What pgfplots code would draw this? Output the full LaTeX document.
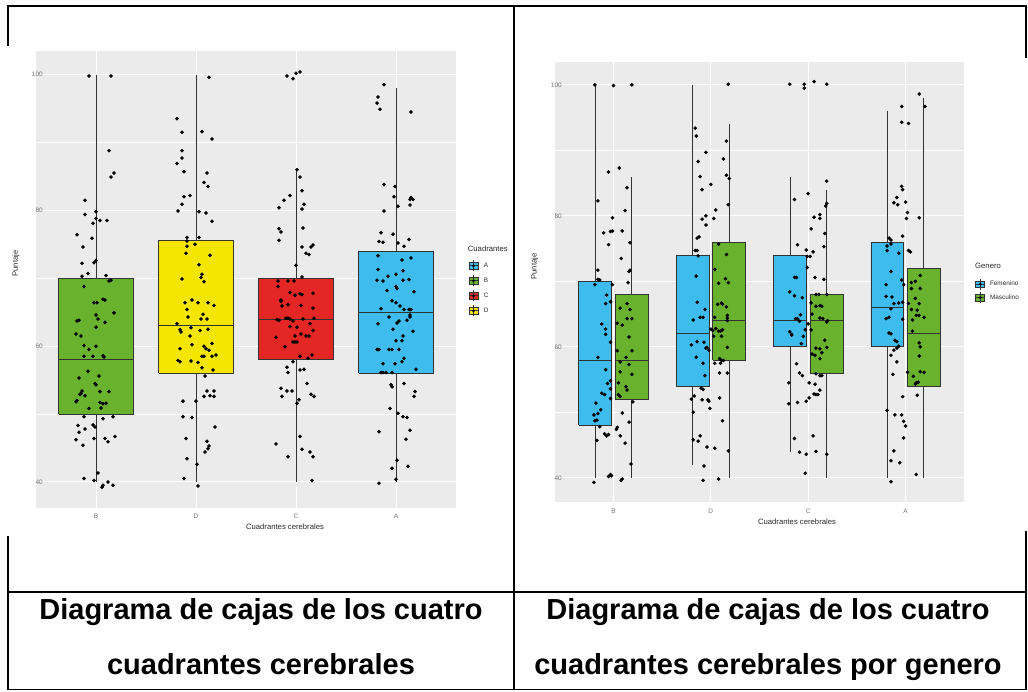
\documentclass[border=0pt]{standalone}
\usepackage{fontspec}
\setmainfont{Liberation Sans}
\usepackage{pgfplots}
\pgfplotsset{compat=1.18}
\definecolor{ggbg}{RGB}{235,235,235}
\definecolor{ggblue}{RGB}{62,188,237}
\definecolor{gggreen}{RGB}{104,178,46}
\definecolor{ggred}{RGB}{228,38,36}
\definecolor{ggyellow}{RGB}{244,230,0}
\definecolor{ggdark}{RGB}{51,51,51}
\definecolor{ggtick}{RGB}{115,115,115}
\definecolor{ggtext}{RGB}{40,40,40}
\pgfplotsset{
  ggaxis/.style={scale only axis, axis background/.style={fill=ggbg},
    grid=both, major grid style={white,line width=1pt}, minor grid style={white,line width=0.5pt},
    axis line style={draw=none}, major tick length=0pt, minor tick length=0pt,
    ytick={40,60,80,100}, minor ytick={50,70,90},
    xtick={1,2,3,4}, xticklabels={B,D,C,A}, xmin=0.4, xmax=4.6,
    /pgf/number format/assume math mode=true,
    tick label style={font=\fontsize{6.5}{7}\selectfont, text=ggtick, inner sep=0pt},
    yticklabel style={anchor=east, xshift=7pt},
    xticklabel style={anchor=north, yshift=-6.5pt},
    legend style={draw=none, fill=none, inner sep=0pt, row sep=0pt, column sep=5pt,
      nodes={inner sep=0.5pt, font=\fontsize{6.4}{7}\selectfont, text=ggtext}},
    legend cell align=left},
  ggw/.style={draw=ggdark, line width=0.7pt, forget plot, mark=none},
  ggb/.style={draw=ggdark, line width=0.7pt, fill=#1, forget plot, mark=none},
  ggpts/.style={only marks, mark=*, mark size=1.6pt, black, forget plot},
  ggkey/.style={legend image code/.code={%
    \path[draw=none, fill=none] (0pt,-7pt) rectangle (9pt,7pt);
    \draw[draw=ggdark, fill=none, line width=0.6pt] (4.5pt,-5.5pt)--(4.5pt,5.5pt);
    \draw[fill=#1, draw=ggdark, line width=0.6pt] (0pt,-3.2pt) rectangle (9pt,3.2pt);
    \draw[draw=ggdark, fill=none, line width=0.6pt] (0pt,0pt)--(9pt,0pt);
    \draw[draw=ggdark, fill=none, line width=0.6pt] (4.5pt,-3.2pt)--(4.5pt,3.2pt);
    \path[fill=black, draw=none] (4.5pt,0pt) circle (1.5pt);}}
}
\begin{document}
\begin{tikzpicture}
\useasboundingbox (0,0) rectangle (1028pt,691pt);
% table lines
\begin{scope}[line width=1.5pt, black]
\draw (7pt,685pt) -- (1027pt,685pt);
\draw (7pt,99pt) -- (1027pt,99pt);
\draw (7pt,1.5pt) -- (1027pt,1.5pt);
\draw (514pt,685pt) -- (514pt,1.5pt);
\draw (8pt,685pt) -- (8pt,645pt);
\draw (8pt,155pt) -- (8pt,1.5pt);
\draw (1026pt,685pt) -- (1026pt,633pt);
\draw (1026pt,160pt) -- (1026pt,1.5pt);
\end{scope}
% ---------------- left chart
\begin{axis}[ggaxis, at={(36pt,183.3pt)}, anchor=south west, width=420pt, height=456.5pt,
  ymin=36.2, ymax=103.45,
  legend style={at={(1.0298,0.5457)}, anchor=north west, row sep=1pt}]
\addlegendimage{ggkey=ggblue}\addlegendentry{A}
\addlegendimage{ggkey=gggreen}\addlegendentry{B}
\addlegendimage{ggkey=ggred}\addlegendentry{C}
\addlegendimage{ggkey=ggyellow}\addlegendentry{D}
% B box
\addplot[ggw] coordinates {(1,40) (1,100)};
\addplot[ggb=gggreen] coordinates {(0.625,50) (1.375,50) (1.375,70) (0.625,70) (0.625,50)};
\addplot[ggw] coordinates {(0.625,58) (1.375,58)};
% D box
\addplot[ggw] coordinates {(2,40) (2,100)};
\addplot[ggb=ggyellow] coordinates {(1.625,56) (2.375,56) (2.375,75.6) (1.625,75.6) (1.625,56)};
\addplot[ggw] coordinates {(1.625,63) (2.375,63)};
% C box
\addplot[ggw] coordinates {(3,40) (3,86)};
\addplot[ggb=ggred] coordinates {(2.625,58) (3.375,58) (3.375,70) (2.625,70) (2.625,58)};
\addplot[ggw] coordinates {(2.625,64) (3.375,64)};
% A box
\addplot[ggw] coordinates {(4,40) (4,98)};
\addplot[ggb=ggblue] coordinates {(3.625,56) (4.375,56) (4.375,74) (3.625,74) (3.625,56)};
\addplot[ggw] coordinates {(3.625,65) (4.375,65)};
% B
\addplot[ggpts] coordinates {(0.93,99.8) (1.15,99.8) (1.13,88.8) (1.15,84.9) (1.18,85.5) (0.89,81.5) (0.89,79.4) (1.00,79.8) (0.97,78.1) (1.00,78.8) (1.04,78.5) (1.11,78.5) (0.81,76.4) (0.96,75.9) (0.87,74.6) (0.86,72.2) (0.98,72.3) (1.00,72.6) (0.92,70.7) (0.86,70.3) (1.10,70.4) (1.13,69.6) (1.15,69.7) (0.88,68.8) (0.98,66.4) (1.01,66.4) (1.07,66.9) (1.09,66.8) (1.00,64.6) (1.18,64.9) (0.81,63.7) (0.83,63.8) (1.02,64.0) (1.09,63.5) (1.00,62.8) (0.80,61.8) (0.85,61.5) (0.88,60.1) (1.00,60.0) (0.93,59.5) (0.88,58.5) (0.97,58.5) (1.07,58.6) (1.08,58.4) (0.92,56.3) (1.03,55.6) (0.83,55.3) (0.99,54.5) (1.00,54.3) (0.86,53.4) (0.85,53.0) (0.84,52.9) (0.89,52.7) (1.04,53.3) (1.13,53.3) (0.81,52.0) (0.80,51.8) (1.04,51.7) (1.07,51.5) (1.10,51.6) (1.05,50.9) (0.93,50.8) (0.88,49.6) (1.17,49.6) (1.07,49.3) (0.82,48.3) (0.97,48.4) (0.99,48.1) (0.89,47.8) (0.83,47.3) (1.19,46.7) (1.09,46.4) (0.98,46.4) (0.80,46.2) (1.12,45.9) (0.87,45.4) (1.02,41.3) (0.88,40.5) (0.98,40.2) (1.12,40.0) (1.17,39.5) (1.07,39.5) (1.06,39.2)};
% D
\addplot[ggpts] coordinates {(2.13,99.6) (1.81,93.5) (1.86,91.5) (2.06,91.6) (2.16,90.5) (1.86,88.8) (1.86,87.7) (1.81,86.9) (1.88,85.7) (2.11,85.5) (2.08,84.1) (2.12,83.5) (1.88,82.0) (1.94,82.2) (1.86,80.9) (1.82,79.9) (2.03,79.8) (2.10,79.6) (2.16,78.4) (1.91,76.0) (2.03,76.0) (1.91,75.5) (1.91,74.7) (1.99,75.0) (1.90,73.7) (2.14,73.4) (2.03,72.0) (2.06,70.6) (2.05,70.1) (1.86,69.9) (2.08,69.5) (1.96,66.8) (1.89,66.4) (2.02,66.4) (2.12,66.4) (2.18,66.0) (1.91,65.4) (2.07,64.7) (1.92,64.3) (2.11,64.0) (2.05,64.0) (1.81,63.3) (2.12,62.5) (1.84,62.4) (1.95,62.7) (2.04,62.3) (1.85,62.1) (1.94,61.5) (2.16,60.4) (1.96,60.2) (2.08,60.0) (2.10,59.6) (2.13,59.4) (1.84,59.6) (2.20,58.7) (2.06,58.5) (2.08,58.5) (2.16,58.5) (1.82,57.9) (1.84,57.7) (1.95,57.8) (2.02,57.6) (2.06,56.8) (2.17,56.5) (2.09,55.6) (2.11,53.4) (2.18,53.4) (2.08,52.6) (2.14,52.7) (2.18,52.6) (1.87,51.9) (2.00,51.9) (1.87,49.6) (1.96,49.5) (2.19,48.1) (1.90,46.4) (2.11,46.0) (2.13,45.3) (2.12,44.9) (2.09,44.4) (1.91,43.4) (2.01,42.6) (1.88,40.5) (2.02,39.4)};
% C
\addplot[ggpts] coordinates {(2.91,99.8) (2.97,99.4) (3.00,100.2) (3.04,100.4) (3.01,86.0) (3.04,84.9) (3.06,82.9) (2.94,82.2) (2.88,81.5) (3.08,80.9) (3.06,80.2) (2.83,80.4) (2.83,77.3) (2.85,76.8) (2.83,75.6) (3.07,77.4) (3.17,74.9) (3.15,74.6) (3.06,74.6) (3.10,73.7) (3.13,73.5) (3.00,71.9) (3.06,70.2) (2.82,69.6) (2.92,69.6) (2.98,69.6) (2.82,68.8) (2.94,67.9) (2.99,67.5) (3.04,67.7) (3.06,67.6) (3.17,67.8) (2.85,66.8) (2.85,66.6) (2.92,66.1) (3.05,66.0) (2.86,65.9) (3.17,65.6) (2.81,63.9) (2.83,63.8) (2.90,64.1) (2.92,64.1) (2.94,64.0) (2.97,63.7) (3.07,64.0) (3.18,64.1) (3.01,62.8) (3.14,63.3) (2.94,62.9) (3.17,62.3) (3.05,61.8) (2.99,61.5) (3.10,61.5) (3.13,61.5) (2.80,61.3) (2.97,60.6) (2.99,60.6) (3.01,60.6) (2.89,59.9) (3.16,58.7) (3.04,58.5) (3.12,58.2) (2.97,57.7) (2.91,56.9) (2.92,56.1) (3.04,56.5) (3.08,56.6) (3.11,54.5) (2.85,53.8) (2.91,53.4) (2.96,53.4) (2.86,52.6) (3.15,52.9) (3.18,52.6) (3.03,52.1) (3.01,51.6) (3.04,46.7) (2.80,45.6) (3.06,44.8) (3.14,44.4) (2.92,43.7) (3.17,43.7) (3.16,40.2)};
% A
\addplot[ggpts] coordinates {(3.88,98.5) (3.82,96.7) (3.81,95.8) (3.84,94.9) (4.15,94.5) (3.88,83.8) (3.99,83.5) (3.98,82.0) (4.15,81.9) (4.17,81.6) (4.14,81.6) (4.02,80.6) (4.14,80.8) (3.88,79.9) (3.85,76.7) (3.97,76.5) (3.83,75.4) (3.87,75.3) (4.02,75.2) (4.13,75.7) (4.08,74.7) (3.82,73.3) (4.06,72.7) (4.15,73.0) (3.82,71.3) (4.07,71.1) (3.92,70.3) (4.00,70.6) (4.13,69.8) (4.07,69.7) (3.81,69.7) (3.87,69.6) (4.00,68.8) (3.91,68.2) (4.18,68.0) (4.01,68.5) (3.96,66.7) (4.00,66.4) (4.04,65.9) (3.85,65.5) (4.08,65.4) (4.13,65.4) (4.15,65.4) (4.14,64.6) (4.14,64.3) (3.93,64.3) (4.03,63.7) (4.01,63.4) (4.11,63.8) (3.82,63.3) (3.97,62.5) (4.17,62.2) (4.07,61.5) (4.00,60.8) (4.06,60.8) (3.81,59.5) (3.83,59.5) (3.93,59.5) (4.03,59.5) (3.96,59.5) (4.08,58.2) (4.06,57.7) (3.99,57.4) (3.87,57.4) (4.20,56.6) (3.85,56.1) (3.87,56.1) (3.90,56.1) (3.96,56.1) (3.95,54.3) (3.96,54.0) (4.08,54.5) (4.19,53.3) (4.18,52.6) (3.94,50.8) (4.02,50.1) (4.07,49.6) (4.11,49.5) (4.14,47.6) (3.83,47.4) (4.10,46.3) (4.01,43.2) (4.12,42.3) (3.96,42.0) (4.00,40.4) (3.83,39.8)};
\end{axis}
% ---------------- right chart
\begin{axis}[ggaxis, at={(555pt,189pt)}, anchor=south west, width=409pt, height=440pt,
  ymin=36.3, ymax=103.5,
  legend style={at={(1.0274,0.5116)}, anchor=north west, row sep=-0.4pt, column sep=4.5pt}]
\addlegendimage{ggkey=ggblue}\addlegendentry{Femenino}
\addlegendimage{ggkey=gggreen}\addlegendentry{Masculino}
% B
\addplot[ggw] coordinates {(0.8125,40) (0.8125,100)};
\addplot[ggb=ggblue] coordinates {(0.644,48) (0.981,48) (0.981,70) (0.644,70) (0.644,48)};
\addplot[ggw] coordinates {(0.644,58) (0.981,58)};
\addplot[ggw] coordinates {(1.1875,40) (1.1875,86)};
\addplot[ggb=gggreen] coordinates {(1.019,52) (1.356,52) (1.356,68) (1.019,68) (1.019,52)};
\addplot[ggw] coordinates {(1.019,58) (1.356,58)};
% D
\addplot[ggw] coordinates {(1.8125,42) (1.8125,100)};
\addplot[ggb=ggblue] coordinates {(1.644,54) (1.981,54) (1.981,74) (1.644,74) (1.644,54)};
\addplot[ggw] coordinates {(1.644,62) (1.981,62)};
\addplot[ggw] coordinates {(2.1875,40) (2.1875,94)};
\addplot[ggb=gggreen] coordinates {(2.019,58) (2.356,58) (2.356,76) (2.019,76) (2.019,58)};
\addplot[ggw] coordinates {(2.019,64) (2.356,64)};
% C
\addplot[ggw] coordinates {(2.8125,44) (2.8125,86)};
\addplot[ggb=ggblue] coordinates {(2.644,60) (2.981,60) (2.981,74) (2.644,74) (2.644,60)};
\addplot[ggw] coordinates {(2.644,64) (2.981,64)};
\addplot[ggw] coordinates {(3.1875,40) (3.1875,84)};
\addplot[ggb=gggreen] coordinates {(3.019,56) (3.356,56) (3.356,68) (3.019,68) (3.019,56)};
\addplot[ggw] coordinates {(3.019,64) (3.356,64)};
% A
\addplot[ggw] coordinates {(3.8125,40) (3.8125,96)};
\addplot[ggb=ggblue] coordinates {(3.644,60) (3.981,60) (3.981,76) (3.644,76) (3.644,60)};
\addplot[ggw] coordinates {(3.644,66) (3.981,66)};
\addplot[ggw] coordinates {(4.1875,40) (4.1875,98)};
\addplot[ggb=gggreen] coordinates {(4.019,54) (4.356,54) (4.356,72) (4.019,72) (4.019,54)};
\addplot[ggw] coordinates {(4.019,62) (4.356,62)};
% B points
\addplot[ggpts] coordinates {(0.81,100.0) (1.00,99.9) (1.19,100.0) (0.95,86.7) (1.06,87.3) (1.14,84.3) (0.84,82.3) (1.12,80.8) (0.99,79.7) (0.90,77.4) (0.97,77.6) (0.99,77.7) (1.09,77.7) (0.95,75.6) (1.17,75.9) (1.08,73.5) (0.84,71.7) (1.16,71.5) (1.17,71.7) (0.84,70.3) (0.86,70.2) (1.15,69.8) (0.99,69.5) (0.81,69.5) (0.93,67.9) (0.97,66.9) (0.92,66.6) (1.14,66.6) (1.07,65.9) (1.17,65.7) (1.14,64.3) (1.19,64.3) (1.04,63.6) (1.09,63.3) (0.88,63.5) (0.92,62.7) (0.92,61.9) (0.97,60.7) (1.16,61.5) (1.04,59.4) (1.19,59.4) (0.84,58.4) (1.13,58.4) (1.07,57.7) (1.16,57.3) (0.92,56.5) (1.07,56.2) (1.19,55.8) (0.97,54.8) (0.94,54.4) (1.05,54.5) (1.13,53.9) (1.14,53.4) (0.97,53.6) (0.88,52.9) (0.91,52.7) (1.05,52.7) (1.07,52.4) (0.97,52.1) (1.20,51.6) (0.82,51.4) (0.87,50.4) (0.84,49.8) (0.80,49.6) (0.83,48.8) (0.81,48.7) (1.09,49.9) (1.16,48.5) (0.86,47.8) (1.04,47.7) (1.03,47.4) (0.91,46.7) (0.95,46.6) (0.93,46.4) (1.07,46.4) (0.83,45.7) (1.12,45.3) (1.18,42.1) (0.97,40.5) (0.98,40.3) (0.95,40.2) (1.09,39.8) (1.08,39.6) (0.80,39.3)};
% D points
\addplot[ggpts] coordinates {(2.18,100.1) (1.84,93.4) (1.85,92.2) (2.16,91.4) (1.95,89.7) (2.13,88.7) (1.87,88.3) (1.89,86.0) (2.16,86.2) (2.19,85.7) (2.00,84.8) (1.91,84.0) (2.18,81.7) (2.05,80.9) (2.03,79.6) (1.95,80.0) (1.91,79.5) (1.95,78.6) (1.86,76.6) (1.88,76.8) (2.08,75.7) (1.84,74.7) (1.86,74.7) (1.87,73.9) (2.16,74.1) (2.04,71.8) (1.85,70.8) (2.15,70.4) (2.18,69.8) (2.08,69.7) (1.86,66.8) (2.11,66.7) (2.12,66.5) (2.07,66.5) (2.16,66.1) (1.94,65.7) (1.89,64.5) (1.92,64.5) (2.17,64.8) (2.17,64.4) (2.17,64.0) (1.82,64.1) (2.04,64.5) (2.12,62.6) (2.08,62.4) (2.10,62.4) (2.05,62.8) (2.02,62.5) (2.00,62.7) (2.03,61.6) (2.11,61.6) (1.86,60.8) (1.93,60.7) (1.80,60.3) (1.96,59.9) (1.98,59.5) (1.95,59.8) (2.17,59.9) (1.85,58.4) (2.09,58.2) (2.11,57.9) (2.13,57.9) (1.92,57.5) (2.04,57.5) (2.10,57.5) (1.94,55.6) (2.09,56.0) (2.17,56.0) (1.90,53.7) (1.92,53.5) (1.83,52.5) (1.80,52.0) (1.91,51.9) (1.97,51.9) (1.98,51.7) (2.09,52.2) (1.99,50.6) (1.82,50.0) (2.12,48.7) (1.82,45.8) (1.87,45.6) (1.89,46.4) (1.96,44.7) (2.04,44.5) (2.18,44.1) (1.93,41.8) (1.92,39.6) (2.08,39.8)};
% C points
\addplot[ggpts] coordinates {(2.81,100.1) (2.96,100.1) (2.96,99.5) (3.06,100.5) (3.19,100.1) (3.00,83.4) (3.19,85.3) (2.86,82.5) (3.19,81.9) (3.18,81.5) (3.06,79.8) (3.12,79.6) (3.12,80.2) (3.03,78.0) (3.17,77.3) (2.89,75.6) (2.98,74.8) (3.05,74.5) (2.99,73.8) (3.02,73.8) (2.99,72.1) (3.16,75.3) (3.07,70.6) (2.86,70.6) (2.88,70.6) (3.16,70.3) (2.81,68.4) (2.86,67.8) (2.94,67.5) (3.08,68.0) (3.11,68.0) (3.19,68.0) (3.03,66.7) (3.12,66.3) (3.14,66.2) (3.08,66.2) (2.92,64.9) (2.87,64.3) (2.89,64.3) (3.04,65.0) (3.12,64.4) (3.15,64.3) (3.20,64.0) (3.19,63.8) (2.91,63.9) (3.00,63.5) (2.97,62.6) (3.03,62.6) (2.95,61.6) (2.93,60.5) (2.81,62.3) (2.83,61.9) (2.83,61.8) (3.17,61.0) (3.19,59.9) (3.08,59.8) (3.12,59.7) (3.14,59.1) (3.04,58.9) (3.07,58.7) (3.12,58.2) (2.88,57.4) (2.91,56.0) (2.94,55.6) (3.08,55.9) (3.12,55.6) (3.14,55.6) (2.80,54.5) (3.01,54.5) (3.07,54.3) (3.12,53.4) (3.10,52.7) (3.08,52.7) (3.06,52.8) (3.01,52.2) (2.98,51.7) (2.89,51.5) (2.80,51.3) (3.05,46.4) (2.86,46.0) (2.91,43.9) (2.98,43.6) (3.08,44.0) (3.19,43.6) (2.97,40.7)};
% A points
\addplot[ggpts] coordinates {(4.14,98.6) (3.96,96.7) (4.20,96.7) (3.96,94.3) (4.03,94.1) (3.96,84.5) (3.97,84.0) (3.91,82.8) (3.88,82.0) (3.92,81.7) (4.00,82.1) (4.02,80.5) (4.01,79.6) (4.14,79.7) (3.97,76.9) (3.83,76.6) (3.85,76.3) (3.85,75.7) (3.81,75.4) (3.81,74.7) (3.93,74.3) (4.03,74.7) (4.05,74.5) (3.85,71.5) (3.96,70.2) (3.98,69.5) (3.80,69.5) (3.80,67.7) (3.86,67.6) (3.88,66.6) (3.85,65.8) (3.93,66.7) (3.97,66.8) (3.83,64.5) (3.80,64.3) (4.03,66.6) (4.06,65.7) (4.07,64.1) (3.97,64.2) (3.83,62.1) (3.85,62.0) (4.07,62.4) (3.89,61.0) (3.91,60.8) (3.93,60.1) (3.91,59.8) (3.88,59.5) (3.85,58.7) (3.91,57.7) (3.87,55.8) (3.97,52.4) (3.81,50.3) (3.89,49.6) (3.96,49.6) (3.98,48.6) (4.00,47.9) (3.98,46.1) (3.88,44.1) (3.85,42.6) (3.94,42.3) (3.85,39.4) (4.15,70.9) (4.10,70.0) (4.06,69.8) (4.06,68.9) (4.15,68.9) (4.10,67.4) (4.14,66.6) (4.12,65.6) (4.11,64.8) (4.14,64.8) (4.19,64.5) (4.14,60.6) (4.15,60.0) (4.14,58.6) (4.08,55.5) (4.10,54.3) (4.11,54.5) (4.13,54.6) (4.02,56.1) (4.15,56.2) (4.19,56.1) (4.12,52.6) (4.11,40.5)};
\end{axis}
% axis titles
\begin{scope}[font=\fontsize{7.7}{9}\selectfont, text=ggtext]
\node at (285pt,164pt) {Cuadrantes cerebrales};
\node[rotate=90] at (16pt,427.5pt) {Puntaje};
\node at (797pt,169.5pt) {Cuadrantes cerebrales};
\node[rotate=90] at (534.7pt,424.5pt) {Puntaje};
\node[anchor=west, inner sep=0pt] at (467.7pt,442pt) {Cuadrantes};
\node[anchor=west, inner sep=0pt] at (975pt,425pt) {Genero};
\end{scope}
% captions
\begin{scope}[font=\fontsize{29}{33}\selectfont\bfseries, inner sep=0pt]
\node[anchor=base] at (261pt,72pt) {Diagrama de cajas de los cuatro};
\node[anchor=base] at (261pt,17pt) {cuadrantes cerebrales};
\node[anchor=base] at (768pt,72pt) {Diagrama de cajas de los cuatro};
\node[anchor=base] at (768pt,17pt) {cuadrantes cerebrales por genero};
\end{scope}
\end{tikzpicture}
\end{document}
